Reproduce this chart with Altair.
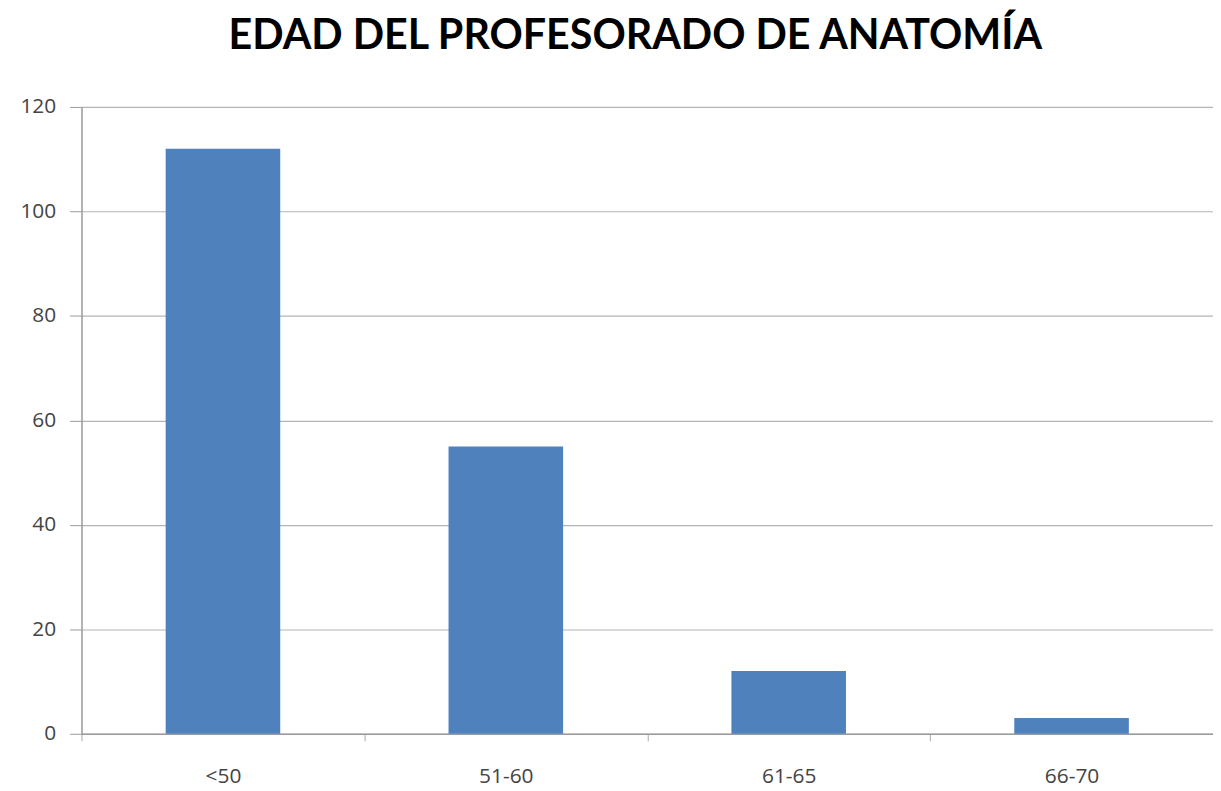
import altair as alt
import pandas as pd

categories = ["<50", "51-60", "61-65", "66-70"]
values = [112, 55, 12, 3]

df = pd.DataFrame({"edad": categories, "n": values})

chart = alt.Chart(df).mark_bar(color="#4F81BD", width=alt.RelativeBandSize(0.405)).encode(
    x=alt.X("edad:N", sort=categories, title=None,
            scale=alt.Scale(paddingInner=0, paddingOuter=0),
            axis=alt.Axis(labelAngle=0, labelFontSize=21, labelColor="#444444",
                          labelFont="Open Sans", labelPadding=25,
                          tickBand="extent", tickSize=7, tickColor="#aaaaaa",
                          domainColor="#999999", domainWidth=1.5)),
    y=alt.Y("n:Q", title=None,
            scale=alt.Scale(domain=[0, 120]),
            axis=alt.Axis(values=[0, 20, 40, 60, 80, 100, 120], labelFontSize=21,
                          labelColor="#444444", labelFont="Open Sans", labelPadding=14,
                          tickSize=12, tickColor="#999999", domainColor="#999999",
                          domainWidth=1.5, gridColor="#b4b4b4", gridWidth=1.2)),
).properties(
    width=1139,
    height=631,
    title=alt.TitleParams("EDAD DEL PROFESORADO DE ANATOMÍA", font="Lato",
                          fontSize=41.5, fontWeight="bold", color="#000000",
                          anchor="middle", offset=39, dx=-12),
    autosize=alt.AutoSizeParams(type="none"),
    padding={"left": 74, "top": 97, "right": 0, "bottom": 56},
).configure_view(stroke=None)

chart.save("out.html", embed_options={"renderer": "svg", "actions": False})
